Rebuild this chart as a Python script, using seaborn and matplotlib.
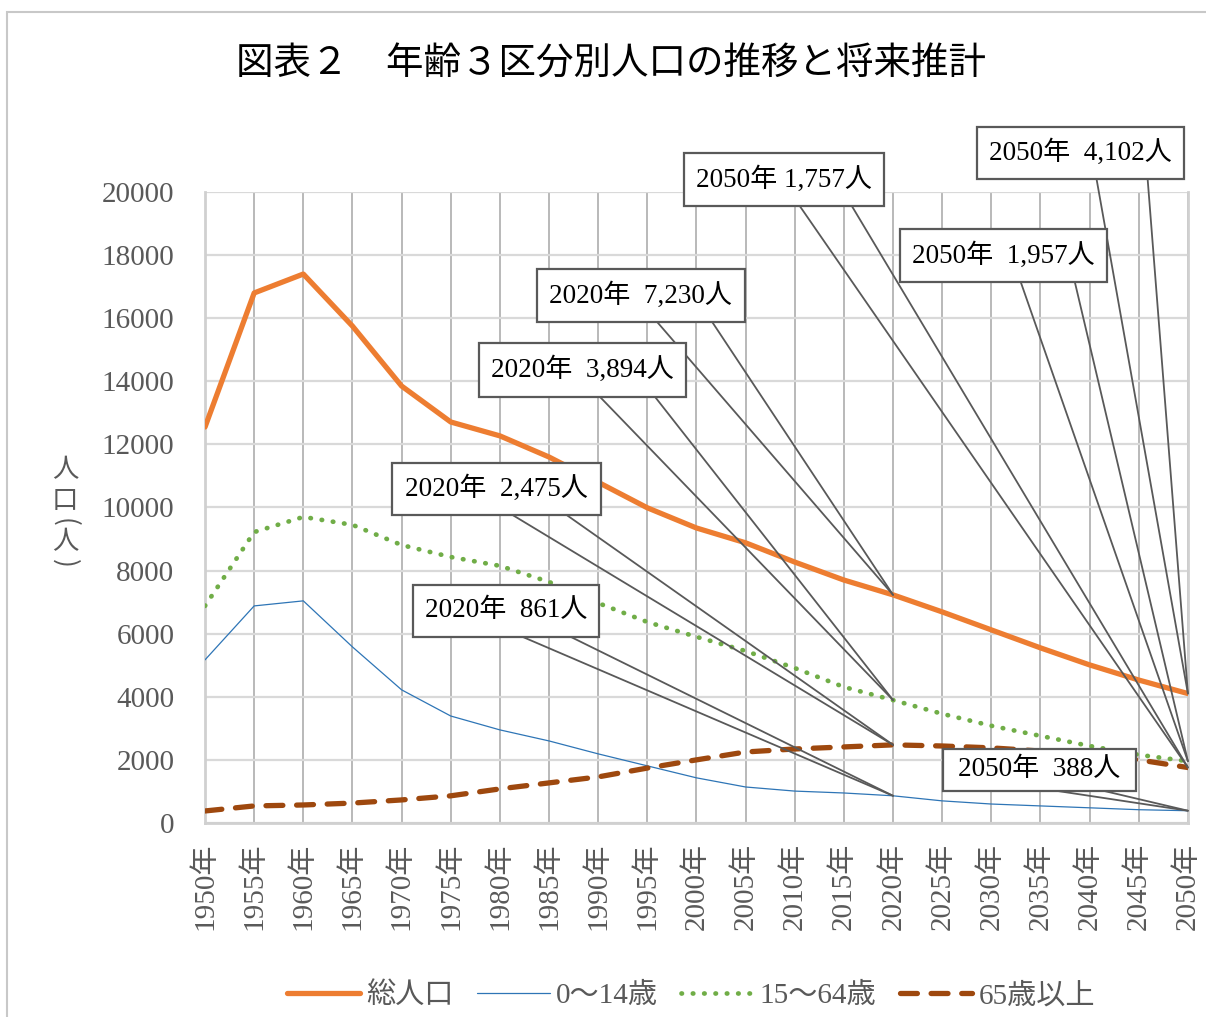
import numpy as np
import pandas as pd
import matplotlib
matplotlib.use("Agg")
import matplotlib.pyplot as plt
from matplotlib.patches import Rectangle
from matplotlib.lines import Line2D
import seaborn as sns

sns.set_theme(style="white")
plt.rcParams["font.family"] = ["Liberation Serif", "Noto Sans CJK JP"]

# data
years = list(range(1950, 2051, 5))
total = [12550, 16800, 17400, 15750, 13850, 12710, 12270, 11600, 10800, 9990,
         9350, 8880, 8270, 7700, 7230, 6690, 6120, 5550, 5010, 4530, 4102]
age0_14 = [5170, 6880, 7040, 5580, 4220, 3390, 2950, 2600, 2190, 1810,
           1430, 1140, 1010, 950, 861, 700, 600, 540, 480, 420, 388]
age15_64 = [6880, 9220, 9700, 9450, 8810, 8430, 8150, 7640, 6970, 6370,
            5900, 5450, 4910, 4310, 3894, 3460, 3080, 2760, 2440, 2160, 1957]
age65 = [380, 540, 570, 630, 730, 860, 1080, 1270, 1460, 1740,
         2000, 2250, 2345, 2410, 2475, 2440, 2380, 2280, 2160, 2000, 1757]

series_names = ["総人口", "0～14歳", "15～64歳", "65歳以上"]
tick_labels = [f"{y}年" for y in years]

df = pd.DataFrame({"year": years, "総人口": total, "0～14歳": age0_14,
                   "15～64歳": age15_64, "65歳以上": age65})

# callouts: text, series, year, box (left, right, top, bottom in axes fraction), wedge base x's
callouts = [
    ("2050年  4,102人", "総人口", 2050, (0.785, 0.996, 1.103, 1.021), (0.907, 0.959)),
    ("2050年 1,757人", "65歳以上", 2050, (0.487, 0.691, 1.062, 0.978), (0.605, 0.658)),
    ("2050年  1,957人", "15～64歳", 2050, (0.707, 0.918, 0.941, 0.857), (0.830, 0.885)),
    ("2020年  7,230人", "総人口", 2020, (0.338, 0.549, 0.878, 0.794), (0.460, 0.516)),
    ("2020年  3,894人", "15～64歳", 2020, (0.279, 0.489, 0.761, 0.675), (0.402, 0.458)),
    ("2020年  2,475人", "65歳以上", 2020, (0.190, 0.403, 0.571, 0.488), (0.313, 0.368)),
    ("2020年  861人", "0～14歳", 2020, (0.212, 0.401, 0.377, 0.295), (0.323, 0.372)),
    ("2050年  388人", "0～14歳", 2050, (0.751, 0.947, 0.117, 0.051), (0.866, 0.914)),
]

fig = plt.figure(figsize=(12.06, 10.17), dpi=100)
ax = fig.add_axes([0.170, 0.1908, 0.815, 0.6204])

sns.lineplot(data=df, x="year", y="総人口", ax=ax, color="#ED7D31", lw=3.8,
             solid_capstyle="round", label="総人口", zorder=3)
sns.lineplot(data=df, x="year", y="0～14歳", ax=ax, color="#2E75B6", lw=0.9,
             label="0～14歳", zorder=3)
sns.lineplot(data=df, x="year", y="15～64歳", ax=ax, color="#70AD47", lw=3.4,
             linestyle=(0, (0.1, 2.3)), dash_capstyle="round", label="15～64歳", zorder=3)
sns.lineplot(data=df, x="year", y="65歳以上", ax=ax, color="#9E480E", lw=3.8,
             linestyle=(0, (3.2, 2.6)), dash_capstyle="round", label="65歳以上", zorder=3)

ax.set_xlim(1950, 2050)
ax.set_ylim(0, 20000)
ax.set_xticks(years)
ax.set_xticklabels(tick_labels, rotation=90, fontsize=21, color="#595959")
ax.set_yticks(range(0, 20001, 2000))
ax.set_yticklabels([str(v) for v in range(0, 20001, 2000)], fontsize=21, color="#595959")
ax.tick_params(axis="y", length=0, pad=22)
ax.tick_params(axis="x", length=0, pad=14)
ax.set_xlabel("")
ax.set_ylabel("")
ax.yaxis.grid(True, color="#d9d9d9", lw=1.6, zorder=0)
ax.xaxis.grid(True, color="#a6a6a6", lw=1.1, zorder=0)
ax.set_axisbelow(True)
for side in ["left", "bottom", "right", "top"]:
    ax.spines[side].set_color("#d0d0d0")
    ax.spines[side].set_linewidth(2)
ax.spines["top"].set_visible(False)

# callouts
to_ax = ax.transAxes.inverted()
for text, col, yr, (l, r, t, b), (w1, w2) in callouts:
    val = df.loc[df["year"] == yr, col].iloc[0]
    tx, ty = to_ax.transform(ax.transData.transform((yr, val)))
    for wx in (w1, w2):
        ax.add_line(Line2D([wx, tx], [b, ty], transform=ax.transAxes, color="#595959",
                           lw=1.3, clip_on=False, zorder=5))
    ax.add_patch(Rectangle((l, b), r - l, t - b, transform=ax.transAxes, facecolor="white",
                           edgecolor="#595959", lw=1.6, clip_on=False, zorder=6))
    ax.text((l + r) / 2, (t + b) / 2, text, transform=ax.transAxes, ha="center", va="center",
            fontsize=19.5, color="black", zorder=7, clip_on=False)

ax.legend(loc="center", bbox_to_anchor=(0.573, 0.021), bbox_transform=fig.transFigure,
          ncol=4, frameon=False, fontsize=21, handlelength=2.5, handletextpad=0.2,
          columnspacing=0.8, labelcolor="#595959")

fig.text(0.507, 1 - 65 / 1017, "図表２　年齢３区分別人口の推移と将来推計", ha="center",
         va="center", fontsize=27, color="black")

# vertical y-axis label 人口(人), one glyph per line, brackets turned
ylab_x = 65 / 1206
ylab = [("人", 470, 0), ("口", 500, 0), ("(", 522, -90), ("人", 542, 0), (")", 563, -90)]
for ch, py, rot in ylab:
    fig.text(ylab_x, 1 - py / 1017, ch, ha="center", va="center", fontsize=19,
             color="#595959", rotation=rot, family=["Noto Sans CJK JP"])

fig.patches.append(Rectangle((0.006, -0.02), 1.1, 1 - 12 / 1017 + 0.02, transform=fig.transFigure,
                             fill=False, edgecolor="#c8c8c8", lw=1.5))

fig.savefig("out.png", dpi=100)
